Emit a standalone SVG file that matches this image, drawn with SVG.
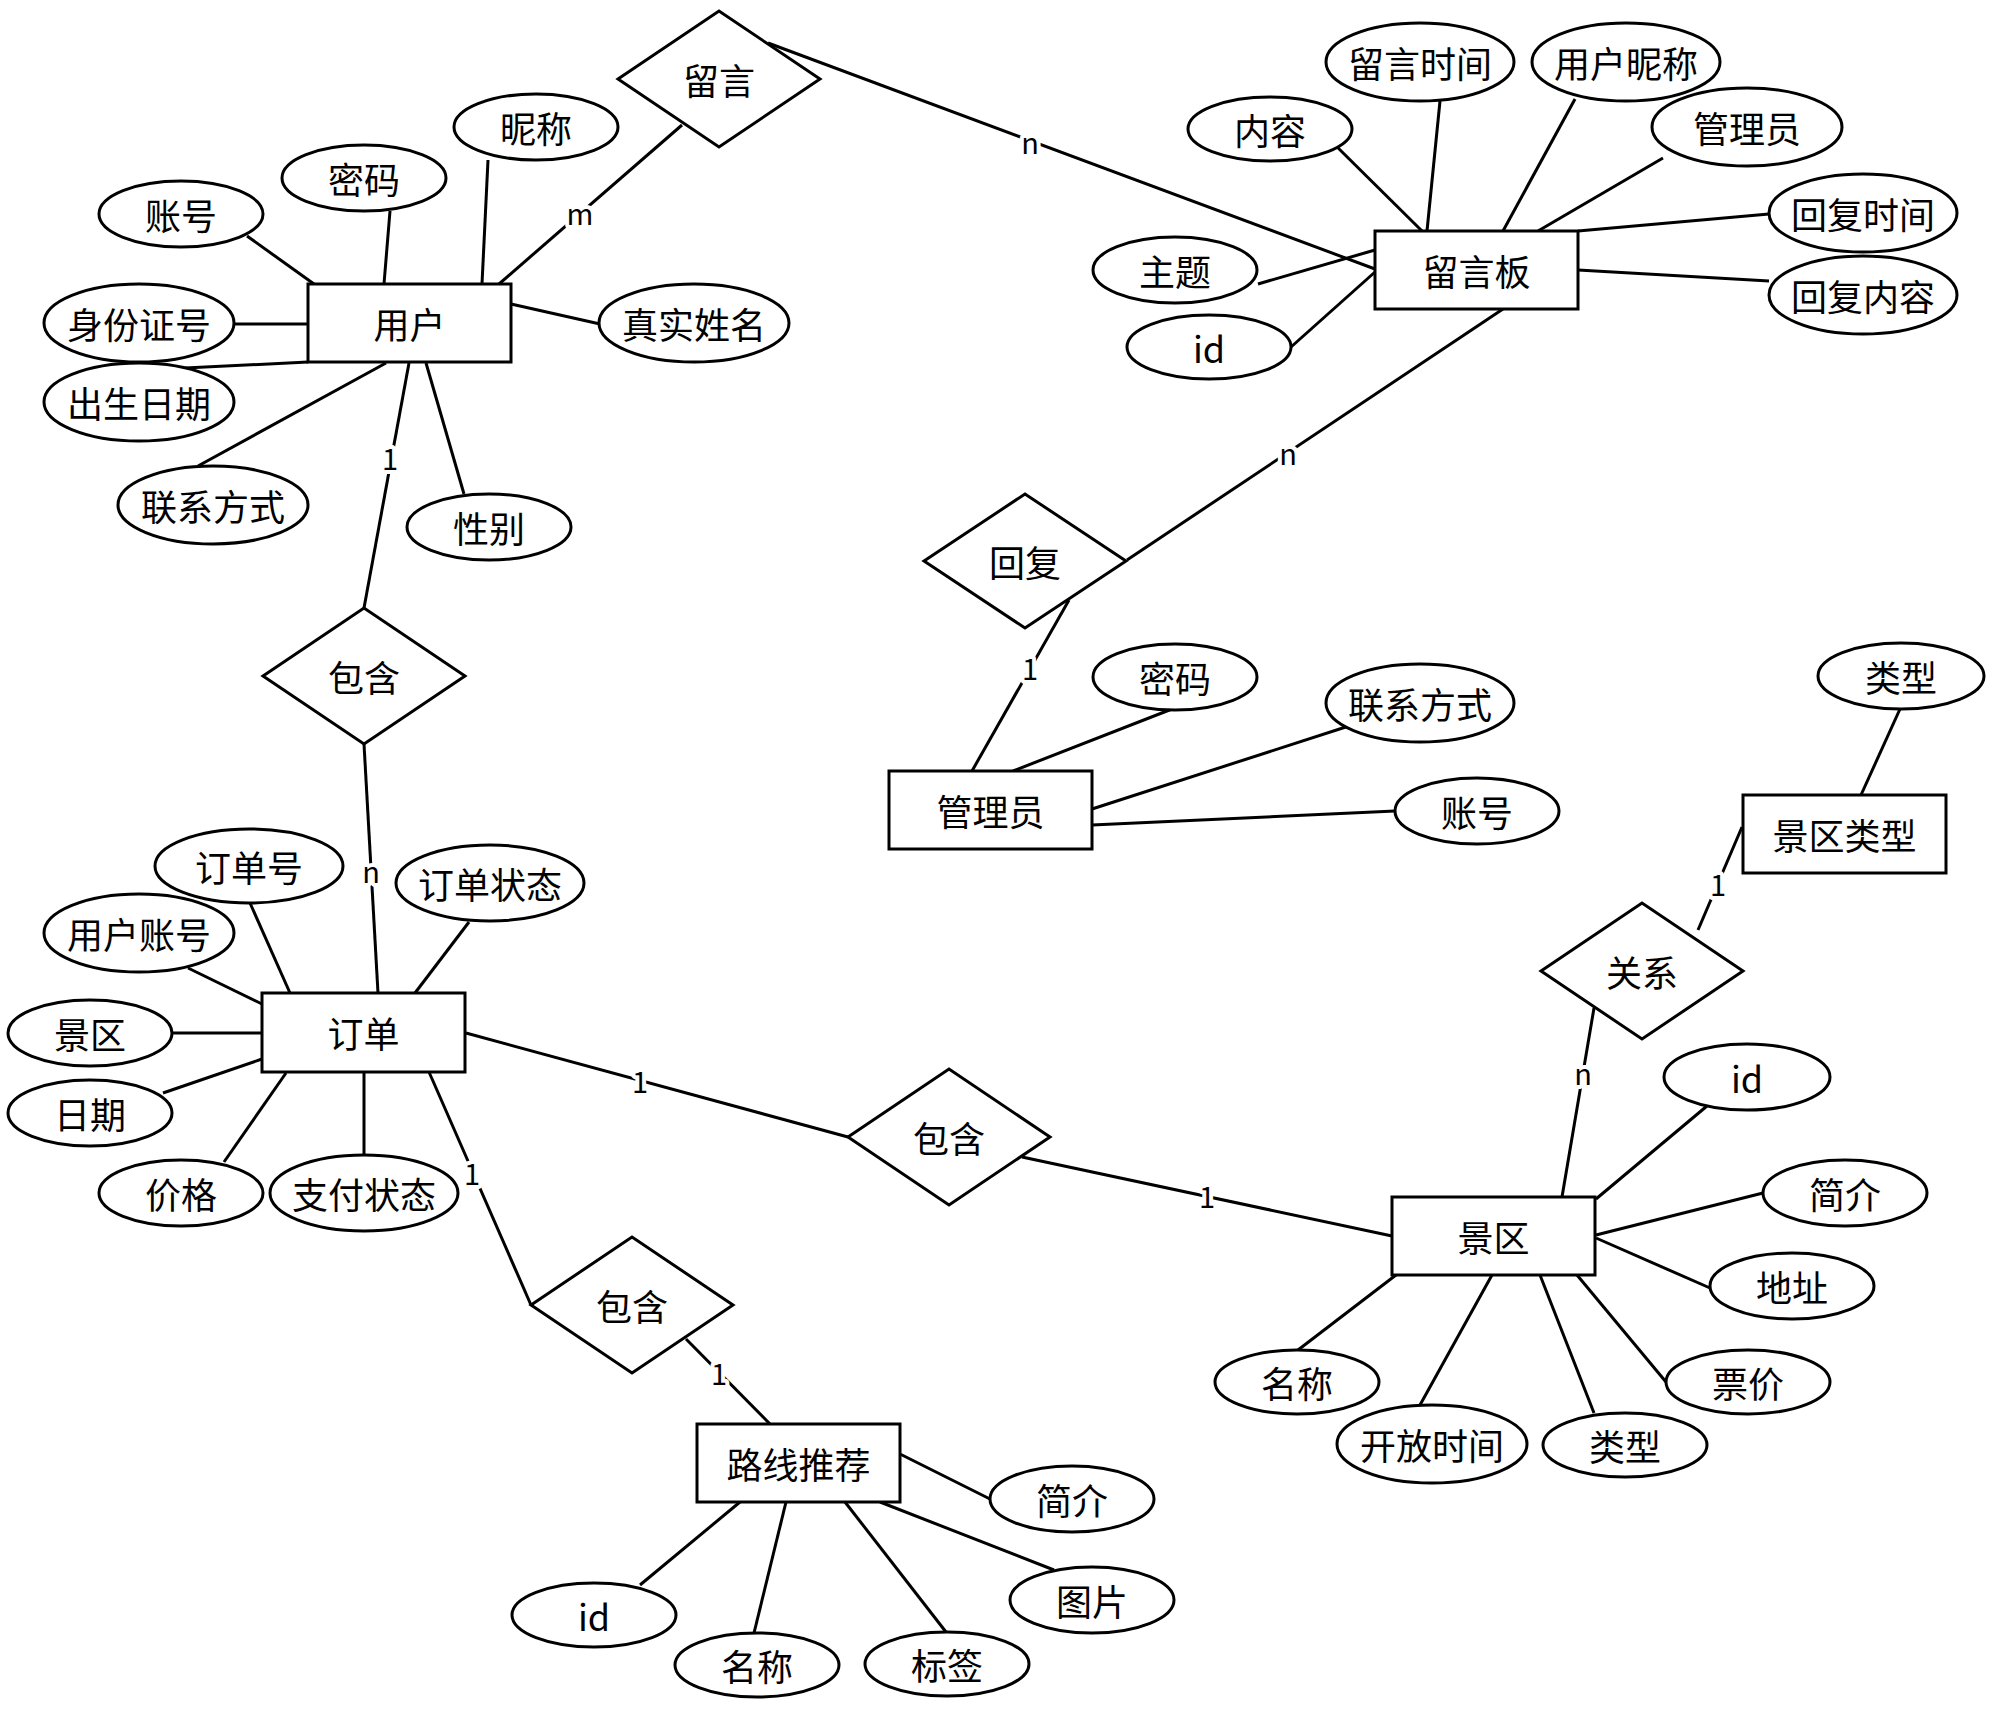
<svg xmlns="http://www.w3.org/2000/svg" width="1999" height="1715" viewBox="0 0 1999 1715">
<style>
.bg{fill:#ffffff}
.ent rect,.attr ellipse,.rel polygon{fill:#ffffff;stroke:#000000;stroke-width:3}
#connectors line{stroke:#000000;stroke-width:3}
text{font-family:"Noto Sans CJK SC","Noto Sans",sans-serif;fill:#000000;text-anchor:middle;dominant-baseline:central}
.t{font-size:36px}
.lbl{font-size:29px;stroke:#ffffff;stroke-width:8;paint-order:stroke;stroke-linejoin:round}
</style>
<rect class="bg" x="0" y="0" width="1999" height="1715"/>
<g id="connectors">
<line x1="247" y1="236" x2="314" y2="284"/>
<line x1="390" y1="211" x2="384" y2="284"/>
<line x1="488" y1="160" x2="482" y2="284"/>
<line x1="499" y1="284" x2="682" y2="125"/>
<line x1="511" y1="304" x2="600" y2="324"/>
<line x1="234" y1="324" x2="308" y2="324"/>
<line x1="185" y1="368" x2="308" y2="362"/>
<line x1="198" y1="466" x2="386" y2="363"/>
<line x1="464" y1="494" x2="426" y2="363"/>
<line x1="409" y1="363" x2="364" y2="608"/>
<line x1="364" y1="744" x2="378" y2="993"/>
<line x1="768" y1="43" x2="1375" y2="269"/>
<line x1="1329" y1="139" x2="1422" y2="231"/>
<line x1="1440" y1="101" x2="1427" y2="231"/>
<line x1="1575" y1="99" x2="1503" y2="231"/>
<line x1="1663" y1="158" x2="1538" y2="231"/>
<line x1="1578" y1="231" x2="1769" y2="214"/>
<line x1="1578" y1="270" x2="1769" y2="281"/>
<line x1="1258" y1="284" x2="1375" y2="250"/>
<line x1="1291" y1="347" x2="1375" y2="272"/>
<line x1="1503" y1="309" x2="1127" y2="560"/>
<line x1="1069" y1="600" x2="972" y2="771"/>
<line x1="1172" y1="709" x2="1013" y2="771"/>
<line x1="1352" y1="725" x2="1092" y2="809"/>
<line x1="1395" y1="811" x2="1092" y2="825"/>
<line x1="250" y1="903" x2="290" y2="993"/>
<line x1="188" y1="968" x2="262" y2="1004"/>
<line x1="172" y1="1033" x2="262" y2="1033"/>
<line x1="163" y1="1093" x2="262" y2="1059"/>
<line x1="224" y1="1162" x2="286" y2="1073"/>
<line x1="364" y1="1155" x2="364" y2="1072"/>
<line x1="469" y1="922" x2="415" y2="993"/>
<line x1="466" y1="1033" x2="848" y2="1137"/>
<line x1="429" y1="1072" x2="531" y2="1305"/>
<line x1="686" y1="1339" x2="770" y2="1424"/>
<line x1="740" y1="1502" x2="640" y2="1585"/>
<line x1="786" y1="1502" x2="754" y2="1633"/>
<line x1="845" y1="1502" x2="946" y2="1632"/>
<line x1="900" y1="1454" x2="990" y2="1499"/>
<line x1="880" y1="1502" x2="1054" y2="1570"/>
<line x1="1022" y1="1157" x2="1392" y2="1236"/>
<line x1="1562" y1="1197" x2="1594" y2="1008"/>
<line x1="1596" y1="1199" x2="1707" y2="1106"/>
<line x1="1596" y1="1235" x2="1763" y2="1193"/>
<line x1="1596" y1="1238" x2="1710" y2="1288"/>
<line x1="1577" y1="1275" x2="1666" y2="1382"/>
<line x1="1540" y1="1275" x2="1594" y2="1413"/>
<line x1="1492" y1="1275" x2="1420" y2="1405"/>
<line x1="1396" y1="1275" x2="1298" y2="1350"/>
<line x1="1698" y1="930" x2="1742" y2="827"/>
<line x1="1900" y1="709" x2="1861" y2="795"/>
<text class="lbl" x="580" y="212">m</text>
<text class="lbl" x="390" y="457">1</text>
<text class="lbl" x="371" y="870">n</text>
<text class="lbl" x="1030" y="141">n</text>
<text class="lbl" x="1288" y="452">n</text>
<text class="lbl" x="1030" y="667">1</text>
<text class="lbl" x="640" y="1080">1</text>
<text class="lbl" x="472" y="1172">1</text>
<text class="lbl" x="719" y="1372">1</text>
<text class="lbl" x="1207" y="1195">1</text>
<text class="lbl" x="1583" y="1072">n</text>
<text class="lbl" x="1718" y="883">1</text>
</g>
<g id="user" class="ent"><rect x="308" y="284" width="203" height="78"/><text class="t" x="409.5" y="323">用户</text></g>
<g id="message-board" class="ent"><rect x="1375" y="231" width="203" height="78"/><text class="t" x="1476.5" y="270">留言板</text></g>
<g id="admin" class="ent"><rect x="889" y="771" width="203" height="78"/><text class="t" x="990.5" y="810">管理员</text></g>
<g id="order" class="ent"><rect x="262" y="993" width="203" height="79"/><text class="t" x="363.5" y="1032">订单</text></g>
<g id="route" class="ent"><rect x="697" y="1424" width="203" height="78"/><text class="t" x="798.5" y="1463">路线推荐</text></g>
<g id="scenic" class="ent"><rect x="1392" y="1197" width="203" height="78"/><text class="t" x="1493.5" y="1236">景区</text></g>
<g id="scenic-type" class="ent"><rect x="1743" y="795" width="203" height="78"/><text class="t" x="1844.5" y="834">景区类型</text></g>
<g id="rel-message" class="rel"><polygon points="618,79 719,11 820,79 719,147"/><text class="t" x="719" y="79">留言</text></g>
<g id="rel-reply" class="rel"><polygon points="924,561 1025,494 1126,561 1025,628"/><text class="t" x="1025" y="561">回复</text></g>
<g id="rel-contain-1" class="rel"><polygon points="263,676 364,608 465,676 364,744"/><text class="t" x="364" y="676">包含</text></g>
<g id="rel-contain-2" class="rel"><polygon points="848,1137 949,1069 1050,1137 949,1205"/><text class="t" x="949" y="1137">包含</text></g>
<g id="rel-contain-3" class="rel"><polygon points="531,1305 632,1237 733,1305 632,1373"/><text class="t" x="632" y="1305">包含</text></g>
<g id="rel-relation" class="rel"><polygon points="1541,971 1642,903 1743,971 1642,1039"/><text class="t" x="1642" y="971">关系</text></g>
<g id="user-nickname" class="attr"><ellipse cx="536" cy="127" rx="82" ry="33"/><text class="t" x="536" y="127">昵称</text></g>
<g id="user-password" class="attr"><ellipse cx="364" cy="178" rx="82" ry="33"/><text class="t" x="364" y="178">密码</text></g>
<g id="user-account" class="attr"><ellipse cx="181" cy="214" rx="82" ry="33"/><text class="t" x="181" y="214">账号</text></g>
<g id="user-idcard" class="attr"><ellipse cx="139" cy="323" rx="95" ry="39"/><text class="t" x="139" y="323">身份证号</text></g>
<g id="user-birth" class="attr"><ellipse cx="139" cy="402" rx="95" ry="39"/><text class="t" x="139" y="402">出生日期</text></g>
<g id="user-contact" class="attr"><ellipse cx="213" cy="505" rx="95" ry="39"/><text class="t" x="213" y="505">联系方式</text></g>
<g id="user-gender" class="attr"><ellipse cx="489" cy="527" rx="82" ry="33"/><text class="t" x="489" y="527">性别</text></g>
<g id="user-realname" class="attr"><ellipse cx="694" cy="323" rx="95" ry="39"/><text class="t" x="694" y="323">真实姓名</text></g>
<g id="mb-time" class="attr"><ellipse cx="1420" cy="62" rx="94" ry="39"/><text class="t" x="1420" y="62">留言时间</text></g>
<g id="mb-nickname" class="attr"><ellipse cx="1626" cy="62" rx="94" ry="39"/><text class="t" x="1626" y="62">用户昵称</text></g>
<g id="mb-content" class="attr"><ellipse cx="1270" cy="129" rx="82" ry="32"/><text class="t" x="1270" y="129">内容</text></g>
<g id="mb-admin" class="attr"><ellipse cx="1747" cy="127" rx="95" ry="39"/><text class="t" x="1747" y="127">管理员</text></g>
<g id="mb-replytime" class="attr"><ellipse cx="1863" cy="213" rx="94" ry="39"/><text class="t" x="1863" y="213">回复时间</text></g>
<g id="mb-replycontent" class="attr"><ellipse cx="1863" cy="295" rx="94" ry="39"/><text class="t" x="1863" y="295">回复内容</text></g>
<g id="mb-subject" class="attr"><ellipse cx="1175" cy="270" rx="82" ry="33"/><text class="t" x="1175" y="270">主题</text></g>
<g id="mb-id" class="attr"><ellipse cx="1209" cy="347" rx="82" ry="32"/><text class="t" x="1209" y="347">id</text></g>
<g id="admin-password" class="attr"><ellipse cx="1175" cy="677" rx="82" ry="33"/><text class="t" x="1175" y="677">密码</text></g>
<g id="admin-contact" class="attr"><ellipse cx="1420" cy="703" rx="94" ry="39"/><text class="t" x="1420" y="703">联系方式</text></g>
<g id="admin-account" class="attr"><ellipse cx="1477" cy="811" rx="82" ry="33"/><text class="t" x="1477" y="811">账号</text></g>
<g id="st-type" class="attr"><ellipse cx="1901" cy="676" rx="83" ry="33"/><text class="t" x="1901" y="676">类型</text></g>
<g id="order-no" class="attr"><ellipse cx="249" cy="866" rx="94" ry="37"/><text class="t" x="249" y="866">订单号</text></g>
<g id="order-status" class="attr"><ellipse cx="490" cy="883" rx="94" ry="38"/><text class="t" x="490" y="883">订单状态</text></g>
<g id="order-useraccount" class="attr"><ellipse cx="139" cy="933" rx="95" ry="39"/><text class="t" x="139" y="933">用户账号</text></g>
<g id="order-scenic" class="attr"><ellipse cx="90" cy="1033" rx="82" ry="33"/><text class="t" x="90" y="1033">景区</text></g>
<g id="order-date" class="attr"><ellipse cx="90" cy="1113" rx="82" ry="33"/><text class="t" x="90" y="1113">日期</text></g>
<g id="order-price" class="attr"><ellipse cx="181" cy="1193" rx="82" ry="33"/><text class="t" x="181" y="1193">价格</text></g>
<g id="order-paystatus" class="attr"><ellipse cx="364" cy="1193" rx="94" ry="38"/><text class="t" x="364" y="1193">支付状态</text></g>
<g id="route-intro" class="attr"><ellipse cx="1072" cy="1499" rx="82" ry="33"/><text class="t" x="1072" y="1499">简介</text></g>
<g id="route-image" class="attr"><ellipse cx="1092" cy="1600" rx="82" ry="33"/><text class="t" x="1092" y="1600">图片</text></g>
<g id="route-id" class="attr"><ellipse cx="594" cy="1615" rx="82" ry="32"/><text class="t" x="594" y="1615">id</text></g>
<g id="route-name" class="attr"><ellipse cx="757" cy="1665" rx="82" ry="32"/><text class="t" x="757" y="1665">名称</text></g>
<g id="route-tag" class="attr"><ellipse cx="947" cy="1664" rx="82" ry="32"/><text class="t" x="947" y="1664">标签</text></g>
<g id="scenic-id" class="attr"><ellipse cx="1747" cy="1077" rx="83" ry="33"/><text class="t" x="1747" y="1077">id</text></g>
<g id="scenic-intro" class="attr"><ellipse cx="1845" cy="1193" rx="82" ry="33"/><text class="t" x="1845" y="1193">简介</text></g>
<g id="scenic-address" class="attr"><ellipse cx="1792" cy="1286" rx="82" ry="33"/><text class="t" x="1792" y="1286">地址</text></g>
<g id="scenic-price" class="attr"><ellipse cx="1748" cy="1382" rx="82" ry="32"/><text class="t" x="1748" y="1382">票价</text></g>
<g id="scenic-type" class="attr"><ellipse cx="1625" cy="1445" rx="82" ry="32"/><text class="t" x="1625" y="1445">类型</text></g>
<g id="scenic-opentime" class="attr"><ellipse cx="1432" cy="1444" rx="95" ry="39"/><text class="t" x="1432" y="1444">开放时间</text></g>
<g id="scenic-name" class="attr"><ellipse cx="1297" cy="1382" rx="82" ry="32"/><text class="t" x="1297" y="1382">名称</text></g>
</svg>
